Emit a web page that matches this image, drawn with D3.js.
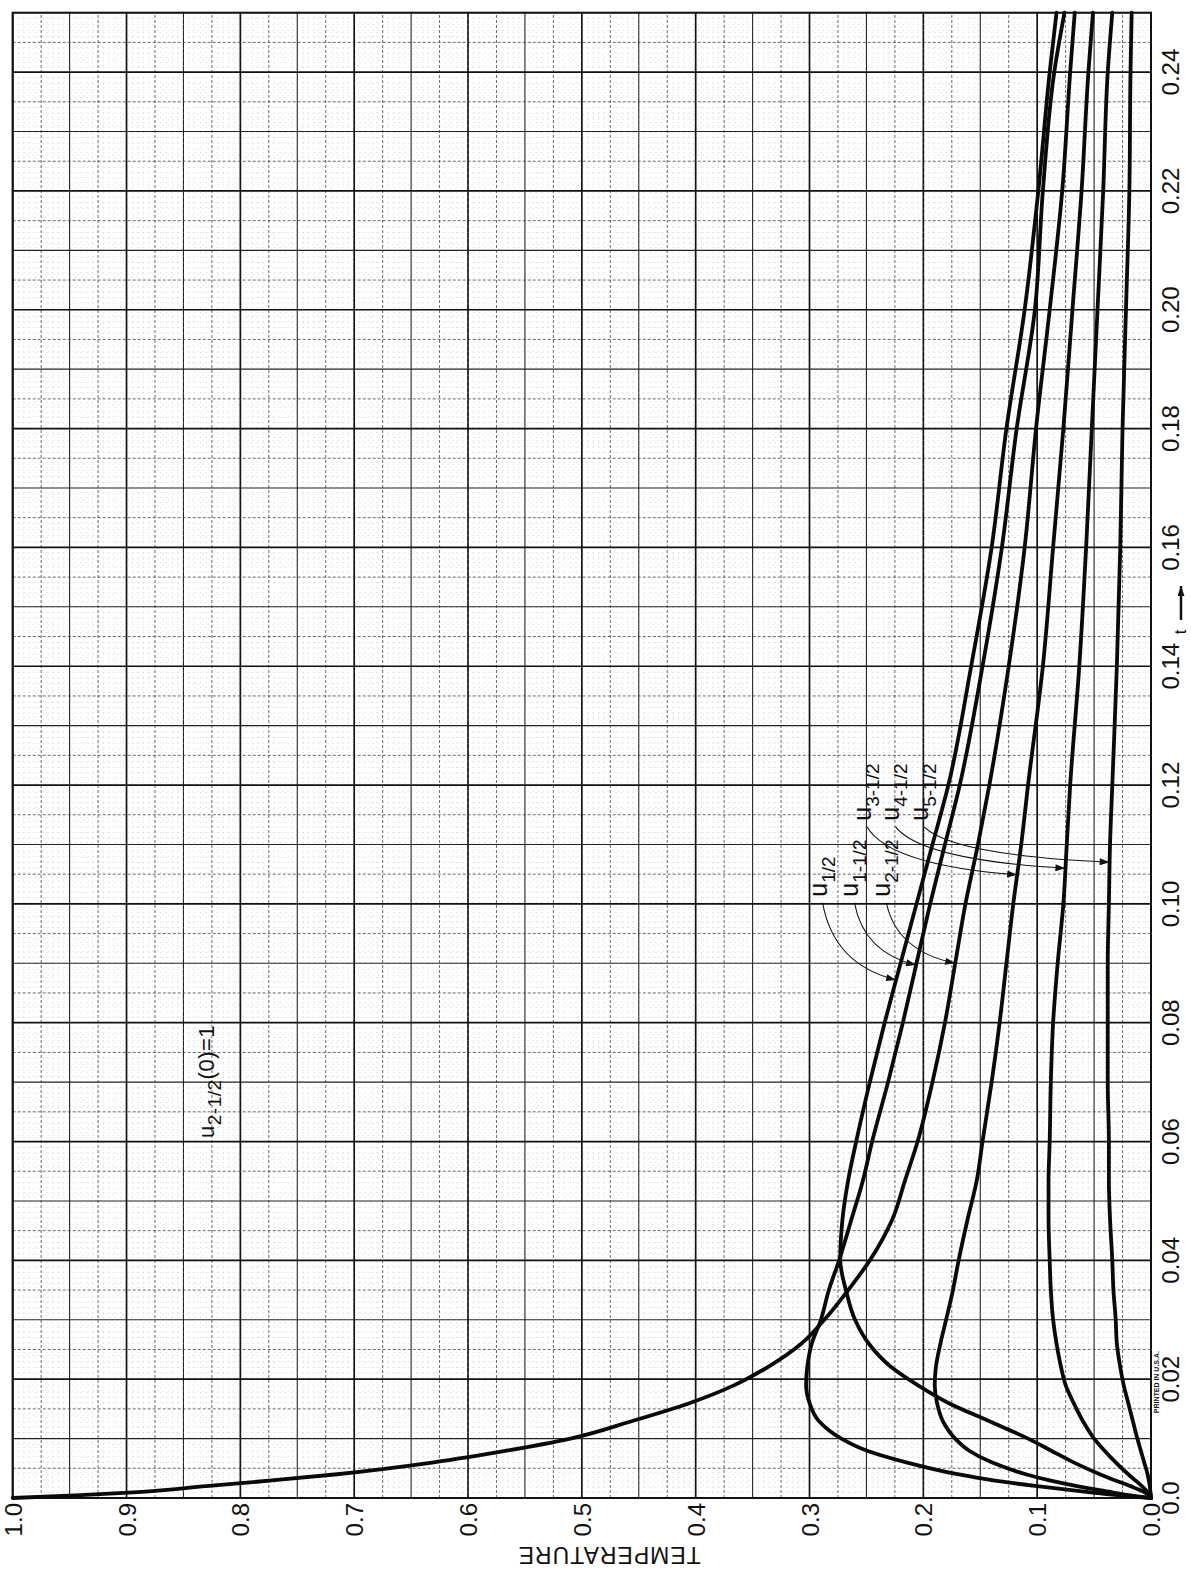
<!DOCTYPE html>
<html>
<head>
<meta charset="utf-8">
<script src="https://cdn.jsdelivr.net/npm/d3@7"></script>
<style>
  html, body { margin: 0; padding: 0; background: #fff; }
  svg { display: block; }
  text { font-family: "Liberation Sans", Arial, sans-serif; fill: #111; }
</style>
</head>
<body>
<svg id="chart" width="1191" height="1573"></svg>
<script>
// time values (t) where curves were read
const tPts = [0, 0.0005, 0.001, 0.002, 0.003, 0.004, 0.006, 0.008, 0.010, 0.013, 0.016, 0.019,
  0.022, 0.026, 0.030, 0.035, 0.040, 0.047, 0.0535, 0.060, 0.070, 0.080, 0.090, 0.100,
  0.110, 0.120, 0.140, 0.160, 0.180, 0.200, 0.220, 0.240, 0.250];

// temperatures
const u05 = [0, 0.002, 0.006, 0.018, 0.032, 0.045, 0.068, 0.088, 0.108, 0.143, 0.178, 0.205,
  0.228, 0.248, 0.260, 0.268, 0.273, 0.271, 0.266, 0.259, 0.247, 0.234, 0.220, 0.206,
  0.192, 0.178, 0.158, 0.140, 0.127, 0.111, 0.099, 0.089, 0.083];
const u15 = [0, 0.030, 0.055, 0.100, 0.140, 0.170, 0.215, 0.250, 0.272, 0.292, 0.300, 0.303,
  0.302, 0.298, 0.290, 0.283, 0.274, 0.263, 0.253, 0.245, 0.231, 0.218, 0.206, 0.194,
  0.181, 0.168, 0.148, 0.131, 0.118, 0.102, 0.095, 0.085, 0.076];
const u25 = [1.0, 0.940, 0.890, 0.830, 0.770, 0.715, 0.630, 0.565, 0.510, 0.455, 0.405, 0.366,
  0.337, 0.307, 0.287, 0.266, 0.247, 0.227, 0.216, 0.205, 0.192, 0.181, 0.172, 0.163,
  0.152, 0.142, 0.125, 0.111, 0.101, 0.089, 0.078, 0.071, 0.067];
const u35 = [0, 0.020, 0.035, 0.065, 0.090, 0.110, 0.140, 0.160, 0.172, 0.183, 0.188, 0.190,
  0.189, 0.185, 0.180, 0.174, 0.169, 0.161, 0.153, 0.148, 0.140, 0.133, 0.127, 0.121,
  0.114, 0.108, 0.095, 0.086, 0.077, 0.069, 0.061, 0.055, 0.051];
const u45 = [0, 0.001, 0.003, 0.008, 0.014, 0.020, 0.031, 0.041, 0.050, 0.060, 0.068, 0.075,
  0.079, 0.083, 0.086, 0.088, 0.089, 0.090, 0.090, 0.089, 0.088, 0.086, 0.082, 0.077,
  0.074, 0.071, 0.063, 0.057, 0.052, 0.047, 0.042, 0.038, 0.034];
const u55 = [0, 0, 0.0005, 0.001, 0.002, 0.003, 0.006, 0.009, 0.012, 0.016, 0.020, 0.024,
  0.027, 0.030, 0.031, 0.033, 0.034, 0.036, 0.037, 0.037, 0.038, 0.038, 0.038, 0.037,
  0.036, 0.034, 0.030, 0.027, 0.025, 0.022, 0.019, 0.018, 0.017];

// tick labels
const tempTicks = [1.0, 0.9, 0.8, 0.7, 0.6, 0.5, 0.4, 0.3, 0.2, 0.1, 0.0];
const tempTickLabels = ["1.0", "0.9", "0.8", "0.7", "0.6", "0.5", "0.4", "0.3", "0.2", "0.1", "0.0"];
const tTicks = [0, 0.02, 0.04, 0.06, 0.08, 0.10, 0.12, 0.14, 0.16, 0.18, 0.20, 0.22, 0.24];
const tTickLabels = ["0.0", "0.02", "0.04", "0.06", "0.08", "0.10", "0.12", "0.14", "0.16", "0.18", "0.20", "0.22", "0.24"];

// curve annotations
const labelSubs = ["1/2", "1-1/2", "2-1/2", "3-1/2", "4-1/2", "5-1/2"];
const labelT = [0.1012, 0.1012, 0.1012, 0.1140, 0.1140, 0.1140];
const labelTemp = [0.285, 0.257, 0.229, 0.246, 0.221, 0.196];
const arrowT = [0.0872, 0.0897, 0.0900, 0.1049, 0.1060, 0.1070];

(function() {
  let W = 1191;
  let H = 1573;
  let svg = d3.select('#chart');

  svg.append('rect').attr('width', W).attr('height', H).attr('fill', '#fff');

  // temperature runs right-to-left, t runs bottom-to-top (the sheet is turned)
  let x = d3.scaleLinear().domain([1, 0]).range([12.7, 1151]);
  let y = d3.scaleLinear().domain([0, 0.25]).range([1498, 12.7]);

  let grid = svg.append('g').attr('class', 'grid');

  // vertical lines, one every 0.005 in temperature
  d3.range(0, 201).forEach(function(i) {
    let v = i / 200;
    let line = grid.append('line')
      .attr('x1', x(v)).attr('x2', x(v))
      .attr('y1', y(0)).attr('y2', y(0.25));
    styleGrid(line, i);
  });

  // horizontal lines, one every 0.001 in t
  d3.range(0, 251).forEach(function(j) {
    let v = j / 1000;
    let line = grid.append('line')
      .attr('x1', x(1)).attr('x2', x(0))
      .attr('y1', y(v)).attr('y2', y(v));
    styleGrid(line, j);
  });

  function styleGrid(line, k) {
    if (k % 20 === 0) {
      line.attr('stroke', '#111').attr('stroke-width', 1.7);
    } else if (k % 10 === 0) {
      line.attr('stroke', '#222').attr('stroke-width', 1.1);
    } else if (k % 5 === 0) {
      line.attr('stroke', '#444').attr('stroke-width', 0.8).attr('stroke-dasharray', '3,2');
    } else {
      line.attr('stroke', '#bbb').attr('stroke-width', 0.6).attr('stroke-dasharray', '1,4');
    }
  }

  // border
  svg.append('rect')
    .attr('x', x(1)).attr('y', y(0.25))
    .attr('width', x(0) - x(1)).attr('height', y(0) - y(0.25))
    .attr('fill', 'none').attr('stroke', '#111').attr('stroke-width', 2);

  // curves
  let series = [u05, u15, u25, u35, u45, u55];
  let line = d3.line()
    .x(function(d) { return x(d[1]); })
    .y(function(d) { return y(d[0]); })
    .curve(d3.curveMonotoneY);

  svg.append('g').selectAll('path')
    .data(series)
    .enter()
    .append('path')
    .attr('d', function(vals) {
      return line(tPts.map(function(t, i) { return [t, vals[i]]; }));
    })
    .attr('fill', 'none')
    .attr('stroke', '#0a0a0a')
    .attr('stroke-width', 3.8)
    .attr('stroke-linejoin', 'round')
    .attr('stroke-linecap', 'round');

  // temperature labels (bottom, turned)
  svg.append('g').selectAll('text')
    .data(tempTicks)
    .enter()
    .append('text')
    .attr('transform', function(d) { return 'translate(' + (x(d) + 9) + ',' + 1503 + ') rotate(-90)'; })
    .attr('text-anchor', 'end')
    .attr('font-size', 24)
    .text(function(d, i) { return tempTickLabels[i]; });

  // t labels (right side, turned)
  svg.append('g').selectAll('text')
    .data(tTicks)
    .enter()
    .append('text')
    .attr('transform', function(d) { return 'translate(' + 1179 + ',' + y(d) + ') rotate(-90)'; })
    .attr('text-anchor', 'middle')
    .attr('font-size', 24)
    .text(function(d, i) { return tTickLabels[i]; });

  // axis title (upside down, as on the sheet)
  svg.append('text')
    .attr('transform', 'translate(' + x(0.476) + ',' + 1547 + ') rotate(180)')
    .attr('text-anchor', 'middle')
    .attr('font-size', 23)
    .attr('letter-spacing', 1)
    .text('TEMPERATURE');

  // t arrow
  let defs = svg.append('defs');
  defs.append('marker')
    .attr('id', 'head')
    .attr('viewBox', '0 0 10 7')
    .attr('refX', 10).attr('refY', 3.5)
    .attr('markerWidth', 12).attr('markerHeight', 7)
    .attr('markerUnits', 'userSpaceOnUse')
    .attr('orient', 'auto')
    .append('path').attr('d', 'M0,0 L10,3.5 L0,7 z').attr('fill', '#111');

  svg.append('text')
    .attr('transform', 'translate(' + 1186 + ',' + y(0.1458) + ') rotate(-90)')
    .attr('text-anchor', 'middle')
    .attr('font-size', 17)
    .text('t');
  svg.append('line')
    .attr('x1', 1181).attr('x2', 1181)
    .attr('y1', y(0.1478)).attr('y2', y(0.1535))
    .attr('stroke', '#111').attr('stroke-width', 2.5)
    .attr('marker-end', 'url(#head)');

  svg.append('text')
    .attr('transform', 'translate(' + 1159 + ',' + y(0.0195) + ') rotate(-90)')
    .attr('text-anchor', 'middle')
    .attr('font-size', 7)
    .attr('font-weight', 'bold')
    .text('PRINTED IN U.S.A.');

  // initial condition note
  let note = svg.append('text')
    .attr('transform', 'translate(' + x(0.823) + ',' + y(0.0606) + ') rotate(-90)')
    .attr('font-size', 22)
    .attr('letter-spacing', 0.5);
  note.append('tspan').text('u');
  note.append('tspan').attr('dy', 7).attr('font-size', 19).text('2-1/2');
  note.append('tspan').attr('dy', -7).text('(0)=1');

  // curve labels with leader arrows
  let annot = svg.append('g');
  labelSubs.forEach(function(sub, i) {
    let lx = x(labelTemp[i]);
    let ly = y(labelT[i]);
    let lab = annot.append('text')
      .attr('transform', 'translate(' + lx + ',' + ly + ') rotate(-90)')
      .attr('font-size', 25);
    lab.append('tspan').text('u');
    lab.append('tspan').attr('dy', 8).attr('font-size', 19).text(sub);

    let vals = series[i];
    let tipTemp = d3.scaleLinear().domain(tPts).range(vals)(arrowT[i]);
    let tx = x(tipTemp);
    let ty = y(arrowT[i]);
    let sx = lx - 4;
    let sy = ly + 6;
    let cx = sx + 0.15 * (tx - sx);
    let cy = sy + 0.8 * (ty - sy);
    annot.append('path')
      .attr('d', 'M' + sx + ',' + sy + ' Q' + cx + ',' + cy + ' ' + tx + ',' + ty)
      .attr('fill', 'none')
      .attr('stroke', '#111')
      .attr('stroke-width', 1.1)
      .attr('marker-end', 'url(#head)');
  });
})();
</script>
</body>
</html>
